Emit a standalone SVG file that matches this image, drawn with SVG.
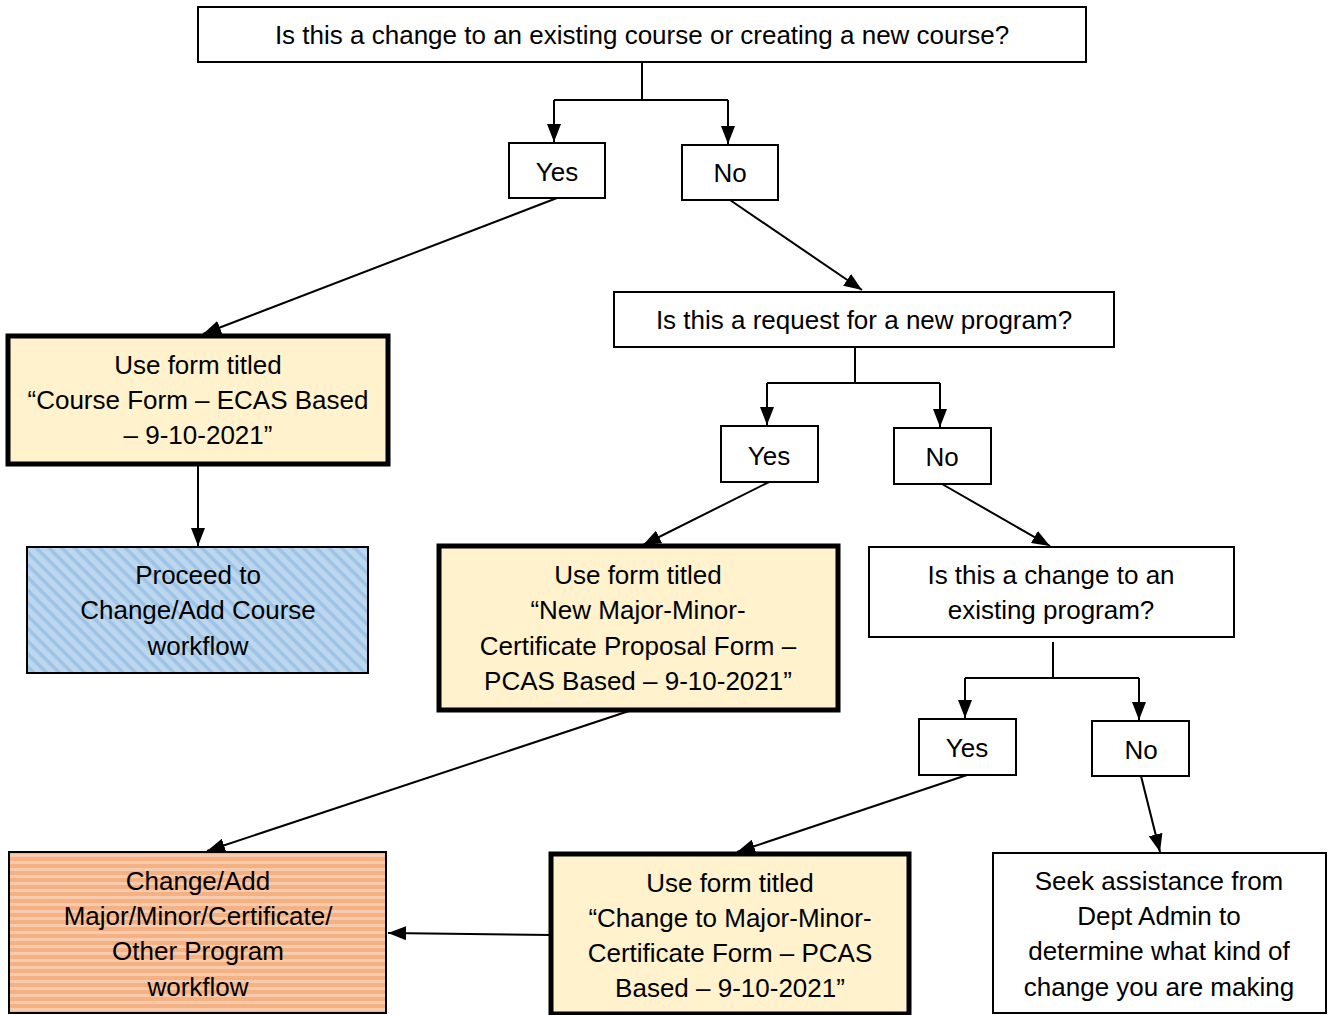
<svg xmlns="http://www.w3.org/2000/svg" width="1332" height="1015" viewBox="0 0 1332 1015">
<defs>
<style>
text{font-family:"Liberation Sans",Arial,sans-serif;font-size:26px;fill:#000;text-anchor:middle;dominant-baseline:central}
.box{fill:#fff;stroke:#000;stroke-width:2}
.form{fill:#FFF2CC;stroke:#000;stroke-width:5}
.conn{fill:none;stroke:#000;stroke-width:2}
</style>
<marker id="ah" viewBox="0 0 18 14" refX="18" refY="7" markerWidth="18" markerHeight="14" markerUnits="userSpaceOnUse" orient="auto">
<path d="M0,0 L18,7 L0,14 Z" fill="#000"/>
</marker>
<pattern id="blue" width="9" height="9" patternUnits="userSpaceOnUse" patternTransform="rotate(45)">
<rect width="9" height="9" fill="#BDD7EE"/>
<rect width="9" height="3.5" fill="#9DC3E6"/>
</pattern>
<pattern id="orange" width="7" height="7" patternUnits="userSpaceOnUse">
<rect width="7" height="7" fill="#F4B183"/>
<rect width="7" height="3" fill="#F8CBAD"/>
</pattern>
</defs>
<g id="connectors">
<path class="conn" d="M642,62 V100 M554,100 H728"/>
<path class="conn" d="M554,100 V142" marker-end="url(#ah)"/>
<path class="conn" d="M728,100 V144" marker-end="url(#ah)"/>
<path class="conn" d="M557,198 L203,334" marker-end="url(#ah)"/>
<path class="conn" d="M730,200 L862,290" marker-end="url(#ah)"/>
<path class="conn" d="M198,464 V546" marker-end="url(#ah)"/>
<path class="conn" d="M855,347 V383 M767,383 H940"/>
<path class="conn" d="M767,383 V425" marker-end="url(#ah)"/>
<path class="conn" d="M940,383 V427" marker-end="url(#ah)"/>
<path class="conn" d="M769,482 L643,545" marker-end="url(#ah)"/>
<path class="conn" d="M942,484 L1050,546" marker-end="url(#ah)"/>
<path class="conn" d="M632,710 L207,851" marker-end="url(#ah)"/>
<path class="conn" d="M1053,642 V678 M965,678 H1139"/>
<path class="conn" d="M965,678 V718" marker-end="url(#ah)"/>
<path class="conn" d="M1139,678 V720" marker-end="url(#ah)"/>
<path class="conn" d="M967,775 L737,852" marker-end="url(#ah)"/>
<path class="conn" d="M1141,776 L1160,852" marker-end="url(#ah)"/>
<path class="conn" d="M551,935 L388,933" marker-end="url(#ah)"/>
</g>
<g id="q1"><rect class="box" x="198" y="7" width="888" height="55"/><text x="642" y="35">Is this a change to an existing course or creating a new course?</text></g>
<g id="yes1"><rect class="box" x="509" y="143" width="96" height="55"/><text x="557" y="172">Yes</text></g>
<g id="no1"><rect class="box" x="682" y="145" width="96" height="55"/><text x="730" y="173">No</text></g>
<g id="courseForm"><rect class="form" x="8" y="336" width="380" height="128"/>
<text x="198" y="365">Use form titled</text><text x="198" y="400">“Course Form – ECAS Based</text><text x="198" y="435">– 9-10-2021”</text></g>
<g id="courseWorkflow"><rect x="27" y="547" width="341" height="126" fill="url(#blue)" stroke="#000" stroke-width="2"/>
<text x="198" y="575">Proceed to</text><text x="198" y="610">Change/Add Course</text><text x="198" y="646">workflow</text></g>
<g id="q2"><rect class="box" x="614" y="292" width="500" height="55"/><text x="864" y="320">Is this a request for a new program?</text></g>
<g id="yes2"><rect class="box" x="721" y="426" width="97" height="56"/><text x="769" y="456">Yes</text></g>
<g id="no2"><rect class="box" x="894" y="428" width="97" height="56"/><text x="942" y="457">No</text></g>
<g id="newForm"><rect class="form" x="439" y="546" width="399" height="164"/>
<text x="638" y="575">Use form titled</text><text x="638" y="610">“New Major-Minor-</text><text x="638" y="646">Certificate Proposal Form –</text><text x="638" y="681">PCAS Based – 9-10-2021”</text></g>
<g id="q3"><rect class="box" x="869" y="547" width="365" height="90"/>
<text x="1051" y="575">Is this a change to an</text><text x="1051" y="610">existing program?</text></g>
<g id="yes3"><rect class="box" x="919" y="719" width="97" height="56"/><text x="967" y="748">Yes</text></g>
<g id="no3"><rect class="box" x="1092" y="721" width="97" height="55"/><text x="1141" y="750">No</text></g>
<g id="programWorkflow"><rect x="9" y="852" width="377" height="161" fill="url(#orange)" stroke="#000" stroke-width="2"/>
<text x="198" y="881">Change/Add</text><text x="198" y="916">Major/Minor/Certificate/</text><text x="198" y="951">Other Program</text><text x="198" y="987">workflow</text></g>
<g id="changeForm"><rect class="form" x="551" y="854" width="358" height="160"/>
<text x="730" y="883">Use form titled</text><text x="730" y="918">“Change to Major-Minor-</text><text x="730" y="953">Certificate Form – PCAS</text><text x="730" y="988">Based – 9-10-2021”</text></g>
<g id="seek"><rect class="box" x="993" y="853" width="333" height="160"/>
<text x="1159" y="881">Seek assistance from</text><text x="1159" y="916">Dept Admin to</text><text x="1159" y="951">determine what kind of</text><text x="1159" y="987">change you are making</text></g>
</svg>
